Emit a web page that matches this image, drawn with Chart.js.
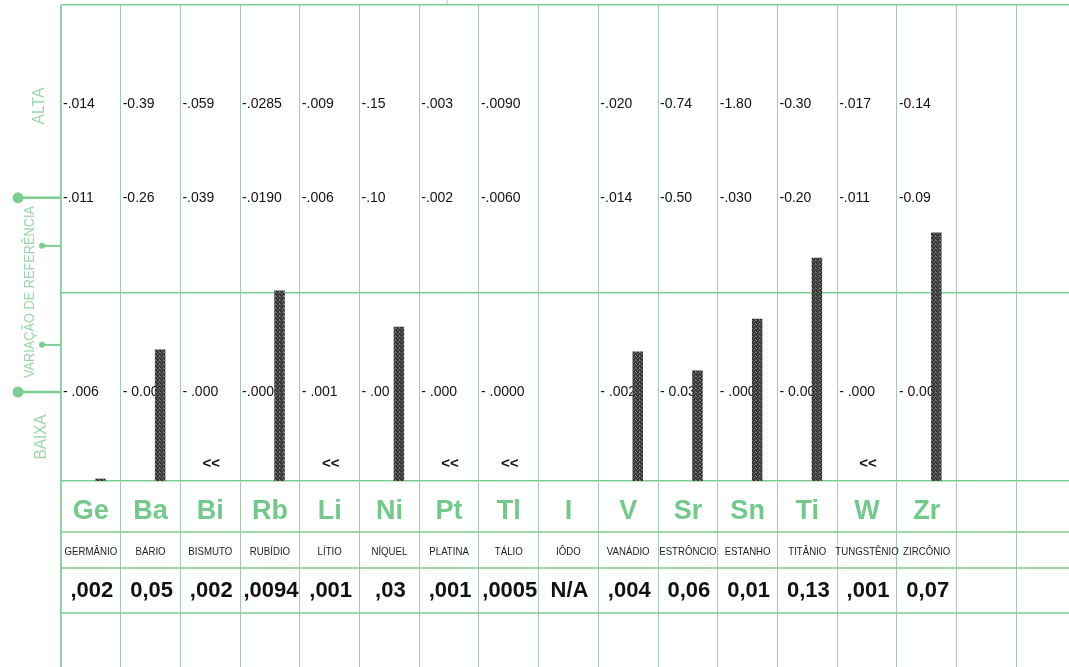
<!DOCTYPE html>
<html>
<head>
<meta charset="utf-8">
<script src="https://cdn.jsdelivr.net/npm/chart.js@4/dist/chart.umd.min.js"></script>
<style>
  html, body { margin: 0; padding: 0; background: #fff; overflow: hidden; }
  #wrap { position: relative; width: 1076px; height: 667px; }
</style>
</head>
<body>
<div id="wrap"><canvas id="chartMinerais" width="1076" height="667"></canvas></div>
<script>
// ---------- dados ----------
const simbolos = ['Ge', 'Ba', 'Bi', 'Rb', 'Li', 'Ni', 'Pt', 'Tl', 'I', 'V', 'Sr', 'Sn', 'Ti', 'W', 'Zr', '', ''];
const nomes = ['GERMÂNIO', 'BÁRIO', 'BISMUTO', 'RUBÍDIO', 'LÍTIO', 'NÍQUEL', 'PLATINA', 'TÁLIO', 'IÔDO', 'VANÁDIO', 'ESTRÔNCIO', 'ESTANHO', 'TITÂNIO', 'TUNGSTÊNIO', 'ZIRCÔNIO', '', ''];
const resultados = [',002', '0,05', ',002', ',0094', ',001', ',03', ',001', ',0005', 'N/A', ',004', '0,06', '0,01', '0,13', ',001', '0,07', '', ''];
const limiteAlto = ['-.014', '-0.39', '-.059', '-.0285', '-.009', '-.15', '-.003', '-.0090', '', '-.020', '-0.74', '-1.80', '-0.30', '-.017', '-0.14', '', ''];
const refAlta = ['-.011', '-0.26', '-.039', '-.0190', '-.006', '-.10', '-.002', '-.0060', '', '-.014', '-0.50', '-.030', '-0.20', '-.011', '-0.09', '', ''];
const refBaixa = ['- .006', '- 0.00', '- .000', '-.0000', '- .001', '- .00', '- .000', '- .0000', '', '- .002', '- 0.03', '- .000', '- 0.00', '- .000', '- 0.00', '', ''];
const abaixo = ['', '', '<<', '', '<<', '', '<<', '<<', '', '', '', '', '', '<<', '', '', ''];
// altura da barra (% da escala do gráfico)
const nivel = [0.5, 27.6, null, 40.0, null, 32.4, null, null, null, 27.2, 23.2, 34.1, 46.9, null, 52.2, null, null];

// níveis das linhas de texto na escala y
const Y_ALTA = 79.2, Y_REF_ALTA = 59.5, Y_REF_BAIXA = 18.7, Y_MEIO = 39.6, Y_ABAIXO = 3.5;
const Y_MARCA1 = 49.4, Y_MARCA2 = 28.6;

const VERDE = '#7ccd92';
const VERDE_TXT = '#72c98b';
const VERDE_CLARO = '#9ad6ab';
const GRADE = '#a8c9ae';

// textura das barras
function padraoBarra(ctx) {
    const pc = document.createElement('canvas');
    pc.width = 4; pc.height = 4;
    const p = pc.getContext('2d');
    p.fillStyle = '#333'; p.fillRect(0, 0, 4, 4);
    p.fillStyle = '#777';
    [[0, 0], [2, 1], [1, 2], [3, 3], [3, 0]].forEach(([x, y]) => p.fillRect(x, y, 1, 1));
    return ctx.createPattern(pc, 'repeat');
}

const tabela = {
    id: 'tabela',
    beforeDatasetsDraw(chart) {
        const { ctx, chartArea, scales: { x, y } } = chart;
        const larg = x.getPixelForValue(1) - x.getPixelForValue(0);
        ctx.save();

        // linhas da tabela inferior
        ctx.strokeStyle = VERDE; ctx.lineWidth = 1.5;
        [532, 568, 613].forEach(yy => {
            ctx.beginPath(); ctx.moveTo(chartArea.left, yy); ctx.lineTo(chart.width, yy); ctx.stroke();
        });
        // borda esquerda
        ctx.beginPath(); ctx.moveTo(chartArea.left, chartArea.top); ctx.lineTo(chartArea.left, chart.height); ctx.stroke();
        // resto do cabeçalho
        ctx.strokeStyle = '#bbb'; ctx.lineWidth = 1;
        ctx.beginPath(); ctx.moveTo(447, 0); ctx.lineTo(447, chartArea.top); ctx.stroke();

        // valores de referência nas células
        ctx.fillStyle = '#111';
        ctx.font = '14px "Liberation Sans", Arial, sans-serif';
        ctx.textBaseline = 'middle'; ctx.textAlign = 'left';
        simbolos.forEach((s, i) => {
            const esq = x.getPixelForValue(i) - larg / 2 + 2;
            ctx.fillText(limiteAlto[i], esq, y.getPixelForValue(Y_ALTA));
            ctx.fillText(refAlta[i], esq, y.getPixelForValue(Y_REF_ALTA));
            ctx.fillText(refBaixa[i], esq, y.getPixelForValue(Y_REF_BAIXA));
        });
        ctx.font = 'bold 15px "Liberation Sans", Arial, sans-serif';
        ctx.textAlign = 'center';
        abaixo.forEach((t, i) => { if (t) ctx.fillText(t, x.getPixelForValue(i) + 1, y.getPixelForValue(Y_ABAIXO)); });

        // tabela: símbolo, nome, resultado
        simbolos.forEach((s, i) => {
            const cx = x.getPixelForValue(i);
            ctx.fillStyle = VERDE_TXT;
            ctx.font = 'bold 27px "Liberation Sans", Arial, sans-serif';
            ctx.fillText(s, cx, 512);
            // nome em fonte estreita
            ctx.save();
            ctx.translate(cx, 552); ctx.scale(0.84, 1);
            ctx.fillStyle = '#222';
            ctx.font = '11.5px "Liberation Sans", Arial, sans-serif';
            ctx.fillText(nomes[i], 0, 0);
            ctx.restore();
            ctx.fillStyle = '#111';
            ctx.font = 'bold 22px "Liberation Sans", Arial, sans-serif';
            ctx.fillText(resultados[i], cx + 1, 591);
        });

        // eixo esquerdo: marcadores e títulos
        const marcas = [[Y_REF_ALTA, 18, 5.5, 2.5], [Y_REF_BAIXA, 18, 5.5, 2.5], [Y_MARCA1, 42, 3, 2], [Y_MARCA2, 42, 3, 2]];
        ctx.fillStyle = VERDE; ctx.strokeStyle = VERDE;
        marcas.forEach(([v, x0, r, lw]) => {
            const py = y.getPixelForValue(v);
            ctx.lineWidth = lw;
            ctx.beginPath(); ctx.moveTo(x0, py); ctx.lineTo(chartArea.left, py); ctx.stroke();
            ctx.beginPath(); ctx.arc(x0, py, r, 0, Math.PI * 2); ctx.fill();
        });

        ctx.fillStyle = VERDE_CLARO;
        const rotulo = (txt, cx, cy, larguraAlvo, tam) => {
            ctx.save();
            ctx.translate(cx, cy); ctx.rotate(-Math.PI / 2);
            ctx.font = tam + 'px "Liberation Sans", sans-serif';
            const w = ctx.measureText(txt).width;
            ctx.scale(larguraAlvo / w, 1);
            ctx.textAlign = 'center'; ctx.textBaseline = 'middle';
            ctx.fillText(txt, 0, 0);
            ctx.restore();
        };
        rotulo('ALTA', 40, 106, 37, 16);
        rotulo('VARIAÇÃO DE REFERÊNCIA', 30, 292, 172, 15);
        rotulo('BAIXA', 42, 437, 45, 16);

        ctx.restore();
    }
};

const ctx = document.getElementById('chartMinerais');
new Chart(ctx, {
    type: 'bar',
    data: {
        labels: simbolos,
        datasets: [
            { label: 'espaço', data: simbolos.map(() => null) },
            { label: 'Resultado', data: nivel, backgroundColor: padraoBarra(ctx.getContext('2d')), borderWidth: 0 }
        ]
    },
    options: {
        responsive: false, animation: false,
        datasets: { bar: { categoryPercentage: 0.64, barPercentage: 0.55 } },
        layout: { padding: { left: 61, top: 5, right: 0, bottom: 0 } },
        plugins: { legend: { display: false }, tooltip: { enabled: false } },
        scales: {
            x: {
                offset: true,
                grid: { offset: true, color: GRADE, lineWidth: 1, tickLength: 186, tickColor: GRADE },
                border: { color: VERDE, width: 1.5 },
                ticks: { display: false }
            },
            y: {
                min: 0, max: 100,
                afterBuildTicks: (s) => { s.ticks = [{ value: Y_MEIO }, { value: 100 }]; },
                grid: { color: VERDE, lineWidth: 1.5, drawTicks: false },
                border: { display: false },
                ticks: { display: false }
            }
        }
    },
    plugins: [tabela]
});
</script>
</body>
</html>
